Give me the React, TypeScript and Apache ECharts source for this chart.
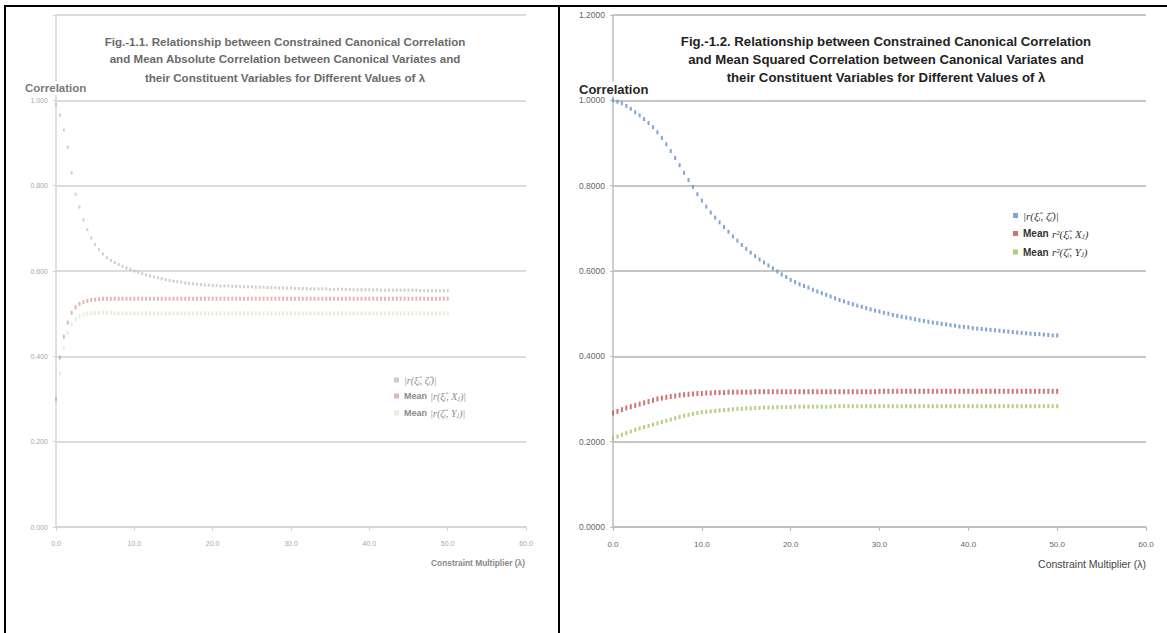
import React, { useEffect, useRef } from 'react';
import * as echarts from 'echarts';

// Constraint multiplier values (shared by both figures)
const LAMBDA = [
  0, 0.5, 1, 1.5, 2, 2.5, 3, 3.5, 4, 4.5,
  5, 5.5, 6, 6.5, 7, 7.5, 8, 8.5, 9, 9.5,
  10, 10.5, 11, 11.5, 12, 12.5, 13, 13.5, 14, 14.5,
  15, 15.5, 16, 16.5, 17, 17.5, 18, 18.5, 19, 19.5,
  20, 20.5, 21, 21.5, 22, 22.5, 23, 23.5, 24, 24.5,
  25, 25.5, 26, 26.5, 27, 27.5, 28, 28.5, 29, 29.5,
  30, 30.5, 31, 31.5, 32, 32.5, 33, 33.5, 34, 34.5,
  35, 35.5, 36, 36.5, 37, 37.5, 38, 38.5, 39, 39.5,
  40, 40.5, 41, 41.5, 42, 42.5, 43, 43.5, 44, 44.5,
  45, 45.5, 46, 46.5, 47, 47.5, 48, 48.5, 49, 49.5,
  50,
];

// Fig.-1.1 (mean absolute correlation)
const FIG1_CANON = [
  0.990, 0.965, 0.930, 0.890, 0.830, 0.780, 0.750, 0.720, 0.697, 0.677,
  0.662, 0.650, 0.640, 0.631, 0.625, 0.620, 0.615, 0.611, 0.607, 0.604,
  0.600, 0.597, 0.594, 0.591, 0.588, 0.586, 0.584, 0.582, 0.580, 0.578,
  0.576, 0.575, 0.574, 0.572, 0.571, 0.570, 0.569, 0.568, 0.567, 0.567,
  0.566, 0.566, 0.565, 0.565, 0.565, 0.564, 0.564, 0.564, 0.563, 0.563,
  0.563, 0.562, 0.562, 0.562, 0.561, 0.561, 0.561, 0.560, 0.560, 0.560,
  0.560, 0.559, 0.559, 0.559, 0.559, 0.558, 0.558, 0.558, 0.558, 0.558,
  0.557, 0.557, 0.557, 0.557, 0.557, 0.557, 0.556, 0.556, 0.556, 0.556,
  0.556, 0.556, 0.556, 0.555, 0.555, 0.555, 0.555, 0.555, 0.555, 0.555,
  0.555, 0.555, 0.555, 0.554, 0.554, 0.554, 0.554, 0.554, 0.554, 0.554,
  0.554,
];
const FIG1_X = [
  0.300, 0.397, 0.446, 0.479, 0.502, 0.515, 0.523, 0.527, 0.530, 0.532,
  0.533, 0.534, 0.535, 0.535, 0.535, 0.535, 0.535, 0.535, 0.535, 0.535,
  0.535, 0.535, 0.535, 0.535, 0.535, 0.535, 0.535, 0.535, 0.535, 0.535,
  0.535, 0.535, 0.535, 0.535, 0.535, 0.535, 0.535, 0.535, 0.535, 0.535,
  0.535, 0.535, 0.535, 0.535, 0.535, 0.535, 0.535, 0.535, 0.535, 0.535,
  0.535, 0.535, 0.535, 0.535, 0.535, 0.535, 0.535, 0.535, 0.535, 0.535,
  0.535, 0.535, 0.535, 0.535, 0.535, 0.535, 0.535, 0.535, 0.535, 0.535,
  0.535, 0.535, 0.535, 0.535, 0.535, 0.535, 0.535, 0.535, 0.535, 0.535,
  0.535, 0.535, 0.535, 0.535, 0.535, 0.535, 0.535, 0.535, 0.535, 0.535,
  0.535, 0.535, 0.535, 0.535, 0.535, 0.535, 0.535, 0.535, 0.535, 0.535,
  0.535,
];
const FIG1_Y = [
  0.280, 0.360, 0.420, 0.455, 0.475, 0.487, 0.494, 0.498, 0.500, 0.501,
  0.502, 0.502, 0.502, 0.502, 0.502, 0.501, 0.501, 0.501, 0.501, 0.501,
  0.501, 0.501, 0.501, 0.501, 0.501, 0.501, 0.501, 0.501, 0.501, 0.501,
  0.501, 0.501, 0.501, 0.501, 0.501, 0.501, 0.501, 0.501, 0.501, 0.501,
  0.501, 0.501, 0.501, 0.501, 0.501, 0.501, 0.501, 0.501, 0.501, 0.501,
  0.501, 0.501, 0.501, 0.501, 0.501, 0.501, 0.501, 0.501, 0.501, 0.501,
  0.501, 0.501, 0.501, 0.501, 0.501, 0.501, 0.501, 0.501, 0.501, 0.501,
  0.501, 0.501, 0.501, 0.501, 0.501, 0.501, 0.501, 0.501, 0.501, 0.501,
  0.501, 0.501, 0.501, 0.501, 0.501, 0.501, 0.501, 0.501, 0.501, 0.501,
  0.501, 0.501, 0.501, 0.501, 0.501, 0.501, 0.501, 0.501, 0.501, 0.501,
  0.501,
];

// Fig.-1.2 (mean squared correlation)
const FIG2_CANON = [
  1.000, 0.997, 0.993, 0.987, 0.980, 0.972, 0.965, 0.956, 0.947, 0.937,
  0.925, 0.912, 0.897, 0.881, 0.865, 0.848, 0.830, 0.813, 0.797, 0.780,
  0.765, 0.751, 0.737, 0.725, 0.714, 0.703, 0.692, 0.681, 0.671, 0.661,
  0.652, 0.643, 0.635, 0.627, 0.620, 0.613, 0.606, 0.599, 0.592, 0.586,
  0.579, 0.574, 0.569, 0.565, 0.561, 0.556, 0.552, 0.548, 0.544, 0.540,
  0.536, 0.532, 0.529, 0.525, 0.522, 0.519, 0.516, 0.513, 0.510, 0.507,
  0.505, 0.502, 0.500, 0.497, 0.495, 0.493, 0.491, 0.489, 0.487, 0.485,
  0.483, 0.481, 0.479, 0.478, 0.476, 0.475, 0.473, 0.472, 0.470, 0.469,
  0.468, 0.466, 0.465, 0.464, 0.463, 0.462, 0.461, 0.460, 0.459, 0.458,
  0.457, 0.456, 0.455, 0.454, 0.453, 0.452, 0.452, 0.451, 0.450, 0.449,
  0.449,
];
const FIG2_X = [
  0.267, 0.271, 0.275, 0.279, 0.282, 0.285, 0.288, 0.291, 0.294, 0.297,
  0.300, 0.302, 0.304, 0.306, 0.307, 0.309, 0.310, 0.311, 0.312, 0.313,
  0.313, 0.314, 0.314, 0.315, 0.315, 0.315, 0.316, 0.316, 0.316, 0.316,
  0.316, 0.316, 0.317, 0.317, 0.317, 0.317, 0.317, 0.317, 0.317, 0.317,
  0.317, 0.317, 0.317, 0.317, 0.317, 0.317, 0.317, 0.317, 0.317, 0.317,
  0.317, 0.317, 0.317, 0.317, 0.317, 0.317, 0.317, 0.317, 0.317, 0.317,
  0.318, 0.318, 0.318, 0.318, 0.318, 0.318, 0.318, 0.318, 0.318, 0.318,
  0.318, 0.318, 0.318, 0.318, 0.318, 0.318, 0.318, 0.318, 0.318, 0.318,
  0.318, 0.318, 0.318, 0.318, 0.318, 0.318, 0.318, 0.318, 0.318, 0.318,
  0.318, 0.318, 0.318, 0.318, 0.318, 0.318, 0.318, 0.318, 0.318, 0.318,
  0.318,
];
const FIG2_Y = [
  0.208, 0.212, 0.216, 0.220, 0.224, 0.228, 0.231, 0.234, 0.237, 0.240,
  0.243, 0.246, 0.249, 0.252, 0.255, 0.258, 0.261, 0.263, 0.265, 0.267,
  0.269, 0.270, 0.271, 0.272, 0.273, 0.274, 0.275, 0.276, 0.277, 0.277,
  0.278, 0.278, 0.279, 0.279, 0.280, 0.280, 0.280, 0.281, 0.281, 0.281,
  0.281, 0.282, 0.282, 0.282, 0.282, 0.282, 0.282, 0.282, 0.282, 0.282,
  0.283, 0.283, 0.283, 0.283, 0.283, 0.283, 0.283, 0.283, 0.283, 0.283,
  0.283, 0.283, 0.283, 0.283, 0.283, 0.283, 0.283, 0.283, 0.283, 0.283,
  0.283, 0.283, 0.283, 0.283, 0.283, 0.283, 0.283, 0.283, 0.283, 0.283,
  0.283, 0.283, 0.283, 0.283, 0.283, 0.283, 0.283, 0.283, 0.283, 0.283,
  0.283, 0.283, 0.283, 0.283, 0.283, 0.283, 0.283, 0.283, 0.283, 0.283,
  0.283,
];

const FIG1_TITLE = [
  'Fig.-1.1. Relationship between Constrained Canonical Correlation',
  'and Mean Absolute Correlation between Canonical Variates and',
  'their Constituent Variables for Different Values of λ',
];
const FIG2_TITLE = [
  'Fig.-1.2. Relationship between Constrained Canonical Correlation',
  'and Mean Squared Correlation between Canonical Variates and',
  'their Constituent Variables for Different Values of λ',
];
const Y_NAME = 'Correlation';
const X_NAME = 'Constraint Multiplier (λ)';

const LEGEND_LABELS: Record<string, string> = {
  'f1-canon': '{f|\u007Cr(ξ̂ᵢ, ζ̂ᵢ)\u007C}',
  'f1-x': '{m|Mean} {f|\u007Cr(ξ̂ᵢ, Xⱼ)\u007C}',
  'f1-y': '{m|Mean} {f|\u007Cr(ζ̂ᵢ, Yⱼ)\u007C}',
  'f2-canon': '{f|\u007Cr(ξ̂ᵢ, ζ̂ᵢ)\u007C}',
  'f2-x': '{m|Mean} {f|r²(ξ̂ᵢ, Xⱼ)}',
  'f2-y': '{m|Mean} {f|r²(ζ̂ᵢ, Yⱼ)}',
};

const SANS = '"Liberation Sans", Arial, sans-serif';
const SERIF = '"Liberation Serif", "DejaVu Serif", serif';

function pts(values: number[]) {
  return LAMBDA.map((x, i) => [x, values[i]]);
}

function buildOption() {
  const xAxisBase = (gridIndex: number, lineColor: string, labelColor: string, fontSize: number) => ({
    type: 'value',
    gridIndex,
    min: 0,
    max: 60,
    interval: 10,
    axisLine: { show: true, lineStyle: { color: lineColor, width: 1.5 } },
    axisTick: { show: true, length: 4, lineStyle: { color: lineColor, width: 1.2 } },
    axisLabel: {
      formatter: (v: number) => v.toFixed(1),
      fontSize,
      color: labelColor,
      fontFamily: SANS,
      margin: 13,
    },
    splitLine: { show: false },
  });
  const yAxisBase = (
    gridIndex: number,
    lineColor: string,
    gridColor: string,
    labelColor: string,
    fontSize: number,
    digits: number,
    hideTop: boolean,
  ) => ({
    type: 'value',
    gridIndex,
    min: 0,
    max: 1.2,
    interval: 0.2,
    axisLine: { show: true, lineStyle: { color: lineColor, width: 1.5 } },
    axisTick: { show: true, length: 3, lineStyle: { color: lineColor, width: 1 } },
    axisLabel: {
      formatter: (v: number) => (hideTop && Math.abs(v - 1.2) < 1e-6 ? '' : v.toFixed(digits)),
      fontSize,
      color: labelColor,
      fontFamily: SANS,
      margin: 8,
    },
    splitLine: { show: true, lineStyle: { color: gridColor, width: 2 } },
  });

  const scatter = (name: string, values: number[], idx: number, color: string, size: number[]) => ({
    name,
    type: 'scatter',
    xAxisIndex: idx,
    yAxisIndex: idx,
    data: pts(values),
    symbol: 'rect',
    symbolSize: size,
    itemStyle: { color },
    silent: true,
  });

  const richStyles = (size: number, color: string) => ({
    m: { fontFamily: SANS, fontWeight: 'bold', fontSize: size - 1, color, lineHeight: 14 },
    f: { fontFamily: SERIF, fontStyle: 'italic', fontSize: size, color, lineHeight: 14 },
  });

  const titleTexts = (lines: string[], cx: number, ys: number[], size: number, color: string) =>
    lines.map((t, i) => ({
      type: 'text',
      x: cx,
      y: ys[i],
      silent: true,
      style: {
        text: t,
        align: 'center',
        verticalAlign: 'middle',
        fontFamily: SANS,
        fontWeight: 'bold',
        fontSize: size,
        fill: color,
      },
    }));

  return {
    animation: false,
    backgroundColor: '#ffffff',
    grid: [
      { left: 56, top: 15, width: 470, height: 512 },
      { left: 613, top: 15, width: 533, height: 512 },
    ],
    xAxis: [
      xAxisBase(0, '#d4d4d4', '#a8a8a8', 7),
      xAxisBase(1, '#bdbdbd', '#666666', 8),
    ],
    yAxis: [
      yAxisBase(0, '#d4d4d4', '#dcdcdc', '#a8a8a8', 7, 3, true),
      yAxisBase(1, '#bdbdbd', '#c6c6c6', '#666666', 8.5, 4, false),
    ],
    legend: [
      {
        data: ['f1-canon', 'f1-x', 'f1-y'],
        orient: 'vertical',
        left: 389,
        top: 370,
        itemWidth: 5,
        itemHeight: 5,
        itemGap: 5,
        icon: 'rect',
        selectedMode: false,
        formatter: (n: string) => LEGEND_LABELS[n],
        textStyle: { rich: richStyles(10, '#8a8a8a') },
      },
      {
        data: ['f2-canon', 'f2-x', 'f2-y'],
        orient: 'vertical',
        left: 1008,
        top: 205,
        itemWidth: 5,
        itemHeight: 5,
        itemGap: 6.5,
        icon: 'rect',
        selectedMode: false,
        formatter: (n: string) => LEGEND_LABELS[n],
        textStyle: { rich: richStyles(11, '#333333') },
      },
    ],
    series: [
      scatter('f1-canon', FIG1_CANON, 0, '#c2c2c2', [2, 3]),
      scatter('f1-x', FIG1_X, 0, '#d9a5a3', [2, 4]),
      scatter('f1-y', FIG1_Y, 0, '#dcebd2', [2, 4]),
      scatter('f2-canon', FIG2_CANON, 1, '#5f8cc8', [2, 4]),
      scatter('f2-x', FIG2_X, 1, '#c4504d', [2, 5]),
      scatter('f2-y', FIG2_Y, 1, '#9fc060', [2, 4]),
    ],
    graphic: [
      // frame
      { type: 'line', silent: true, shape: { x1: 4, y1: 6, x2: 1167, y2: 6 }, style: { stroke: '#000', lineWidth: 2 } },
      { type: 'line', silent: true, shape: { x1: 5, y1: 5, x2: 5, y2: 633 }, style: { stroke: '#000', lineWidth: 2 } },
      { type: 'line', silent: true, shape: { x1: 559, y1: 5, x2: 559, y2: 633 }, style: { stroke: '#000', lineWidth: 2 } },
      ...titleTexts(FIG1_TITLE, 285, [41, 58, 77], 11.6, '#6a6a6a'),
      ...titleTexts(FIG2_TITLE, 886, [41, 59, 77], 13.2, '#1f1f1f'),
      {
        type: 'text', x: 24, y: 88, silent: true, z: 10,
        style: {
          text: Y_NAME, align: 'left', verticalAlign: 'middle', fontFamily: SANS, fontWeight: 'bold',
          fontSize: 11.5, fill: '#7a7a7a', backgroundColor: '#ffffff', padding: [1, 1, 1, 1],
        },
      },
      {
        type: 'text', x: 578, y: 89, silent: true, z: 10,
        style: {
          text: Y_NAME, align: 'left', verticalAlign: 'middle', fontFamily: SANS, fontWeight: 'bold',
          fontSize: 13, fill: '#262626', backgroundColor: '#ffffff', padding: [1, 1, 1, 1],
        },
      },
      {
        type: 'text', x: 525, y: 563, silent: true,
        style: { text: X_NAME, align: 'right', verticalAlign: 'middle', fontFamily: SANS, fontWeight: 'bold', fontSize: 8.4, fill: '#8a8a8a' },
      },
      {
        type: 'text', x: 1146, y: 564, silent: true,
        style: { text: X_NAME, align: 'right', verticalAlign: 'middle', fontFamily: SANS, fontSize: 10.5, fill: '#444444' },
      },
    ],
  };
}

export default function App() {
  const ref = useRef<HTMLDivElement>(null);
  useEffect(() => {
    if (!ref.current) return;
    const chart = echarts.init(ref.current, null, { renderer: 'svg' });
    chart.setOption(buildOption() as any);
    return () => chart.dispose();
  }, []);
  return (
    <div
      ref={ref}
      style={{ position: 'fixed', left: 0, top: 0, width: 1167, height: 633, background: '#ffffff' }}
    />
  );
}
